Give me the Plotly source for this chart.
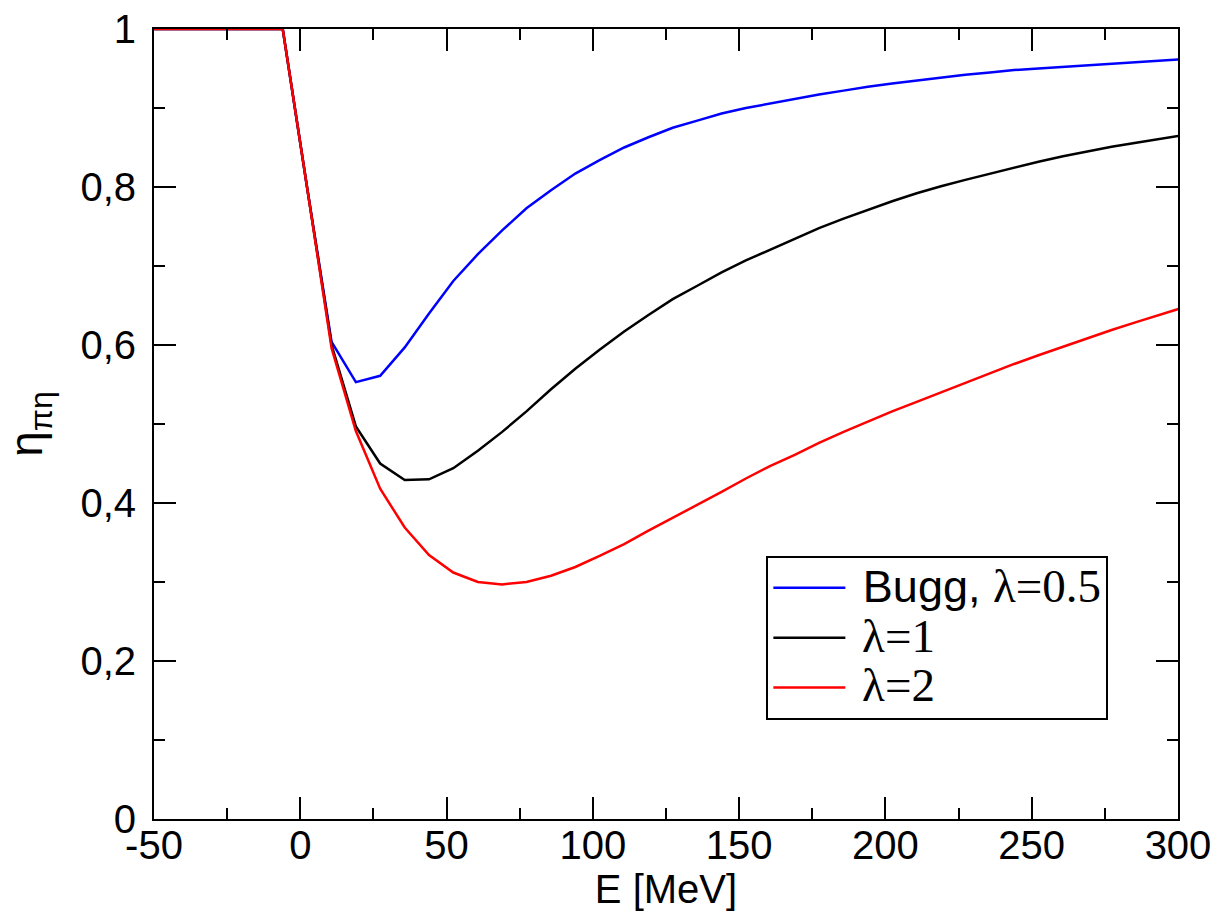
import plotly.graph_objects as go

E = [-50, -6, 2.3, 10.7, 19, 27.3, 35.7, 44, 52.3, 60.7, 69, 77.3, 85.7, 94, 102.3,
     110.7, 119, 127.3, 135.7, 144, 152.3, 160.7, 169, 177.3, 185.7, 194, 202.3,
     210.7, 219, 227.3, 235.7, 244, 252.3, 260.7, 269, 277.3, 285.7, 294, 302.3]

bugg = [1.0, 1.0, 0.80, 0.604, 0.553, 0.561, 0.597, 0.640, 0.681, 0.715, 0.745, 0.773,
        0.796, 0.817, 0.834, 0.850, 0.863, 0.875, 0.884, 0.893, 0.900, 0.906, 0.912,
        0.917, 0.922, 0.927, 0.931, 0.935, 0.939, 0.942, 0.945, 0.948, 0.950, 0.952,
        0.954, 0.956, 0.958, 0.960, 0.962]

lam1 = [1.0, 1.0, 0.80, 0.600, 0.497, 0.450, 0.429, 0.430, 0.444, 0.466, 0.490, 0.516,
        0.544, 0.570, 0.594, 0.617, 0.638, 0.658, 0.675, 0.692, 0.707, 0.721, 0.735,
        0.748, 0.760, 0.771, 0.782, 0.792, 0.801, 0.809, 0.817, 0.825, 0.832, 0.839,
        0.845, 0.851, 0.856, 0.861, 0.866]

lam2 = [1.0, 1.0, 0.80, 0.596, 0.491, 0.418, 0.369, 0.334, 0.312, 0.300, 0.297, 0.300,
        0.308, 0.319, 0.333, 0.348, 0.365, 0.381, 0.398, 0.414, 0.431, 0.447, 0.461,
        0.476, 0.490, 0.503, 0.516, 0.528, 0.540, 0.552, 0.564, 0.576, 0.587, 0.598,
        0.609, 0.619, 0.629, 0.639, 0.648]

names = ["<span style='font-size:45px'>\u00a0Bugg, </span><span style='font-family:Liberation Serif;font-size:47px'>λ=0.5</span>",
         "<span style='font-family:Liberation Serif;font-size:47px'>\u00a0λ=1</span>",
         "<span style='font-family:Liberation Serif;font-size:47px'>\u00a0λ=2</span>"]
colors = ["#0000ff", "#000000", "#ff0000"]

x_tickvals = [-50, 0, 50, 100, 150, 200, 250, 300]
x_ticktext = ["-50", "0", "50", "100", "150", "200", "250", "300"]
y_tickvals = [0, 0.2, 0.4, 0.6, 0.8, 1.0]
y_ticktext = ["0", "0,2", "0,4", "0,6", "0,8", "1"]

fig = go.Figure()
for ys, nm, c in zip([bugg, lam1, lam2], names, colors):
    fig.add_trace(go.Scatter(x=E, y=ys, mode="lines", name=nm,
                             line=dict(color=c, width=2.5)))

axis_common = dict(
    showline=True, linecolor="black", linewidth=2, mirror="ticks",
    ticks="inside", ticklen=22, tickwidth=2, tickcolor="black",
    showgrid=False, zeroline=False, automargin=False,
    tickfont=dict(family="Liberation Sans", size=40, color="black"),
)

fig.update_xaxes(range=[-50, 300], tickvals=x_tickvals, ticktext=x_ticktext,
                 ticklabelstandoff=-10,
                 minor=dict(dtick=25, tick0=-50, ticks="inside", ticklen=11, tickwidth=2,
                            tickcolor="black", showgrid=False),
                 title=dict(text="E [MeV]", standoff=0,
                            font=dict(family="Liberation Sans", size=40, color="black")),
                 **axis_common)
fig.update_yaxes(range=[0, 1], tickvals=y_tickvals, ticktext=y_ticktext,
                 ticklabelstandoff=8,
                 minor=dict(dtick=0.1, tick0=0, ticks="inside", ticklen=11, tickwidth=2,
                            tickcolor="black", showgrid=False),
                 title=dict(text="η<sub>πη</sub>", standoff=24,
                            font=dict(family="Liberation Sans", size=46, color="black")),
                 **axis_common)

fig.update_layout(
    width=1223, height=919,
    margin=dict(l=154, r=45, t=29, b=100),
    plot_bgcolor="white", paper_bgcolor="white",
    showlegend=True,
    legend=dict(x=0.598, y=0.333, xanchor="left", yanchor="top",
                bgcolor="white", bordercolor="black", borderwidth=2,
                font=dict(family="Liberation Sans", size=36, color="black"),
                tracegroupgap=0, itemwidth=72),
)

fig.write_html("out.html", config={"displayModeBar": False},
               post_script="document.body.style.margin='0';document.body.style.overflow='hidden';")
